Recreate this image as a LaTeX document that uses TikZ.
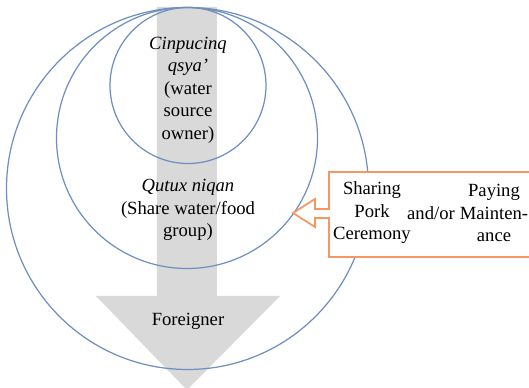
\documentclass[tikz,border=0pt]{standalone}
\usepackage{fontspec}
\setmainfont{Liberation Serif}
\definecolor{ringblue}{RGB}{110,143,192}
\definecolor{boxorange}{RGB}{246,150,98}
\definecolor{arrowgray}{RGB}{217,217,217}

\begin{document}
\begin{tikzpicture}[x=0.02cm,y=-0.02cm,
	ring/.style={draw=ringblue,line width=0.7pt},
	txt/.style={align=center,inner sep=0pt,font=\fontsize{10.6}{12.8}\selectfont}]
		\useasboundingbox (0,0) rectangle (529,388);
		\clip (0,0) rectangle (529,388);
		% grey arrow
		\fill[arrowgray] (157,7) -- (217,7) -- (217,296) -- (280,296) -- (187,390)
			-- (96,296) -- (157,296) -- cycle;
		% circles
		\draw[ring] (187.5,188.5) circle [radius=181];
		\draw[ring] (187,138) circle [radius=130.5];
		\draw[ring] (188,85.5) circle [radius=78];
		% callout
		\draw[boxorange,line width=1pt,fill=white] (329,172) -- (540,172) -- (540,257) -- (329,257)
			-- (329,218) -- (315,218) -- (315,227) -- (293,213) -- (315,199) -- (315,209)
			-- (329,209) -- cycle;
		% texts
		\node[txt] (owner) at (188,90) {\textit{Cinpucinq}\\\textit{qsya’}\\(water\\source\\owner)};
		\node[txt] (group) at (188,210) {\textit{Qutux niqan}\\(Share water/food\\group)};
		\node[txt] (foreign) at (188,321) {Foreigner};
		\node[txt] (pork) at (372,213) {Sharing\\Pork\\Ceremony};
		\node[txt] (andor) at (431,213) {and/or};
		\node[txt] (paying) at (494,213) {Paying\\Mainten-\\ance};
\end{tikzpicture}
\end{document}
